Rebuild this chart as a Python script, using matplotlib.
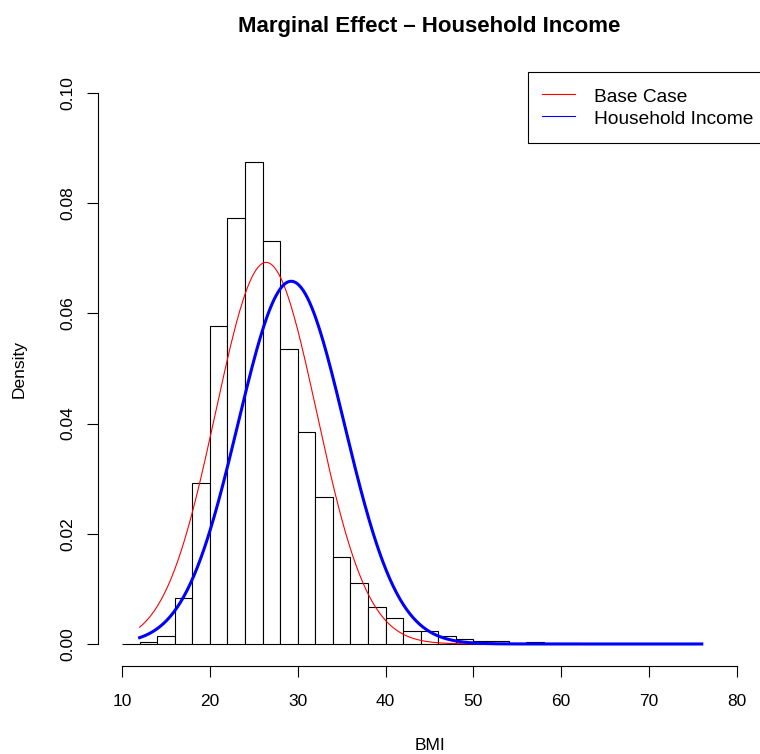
import numpy as np
import matplotlib
matplotlib.use("Agg")
from matplotlib import pyplot as plt
from matplotlib.lines import Line2D

plt.rcParams['font.family'] = ['Liberation Sans', 'DejaVu Sans']

# histogram of BMI, bins of width 2 starting at 10 (density scale)
bin_left = np.arange(10, 76, 2)
density = [0.0, 0.0003, 0.0014, 0.0083, 0.0293, 0.0577, 0.0773, 0.0874,
           0.0731, 0.0535, 0.0385, 0.0267, 0.0158, 0.0111, 0.0068, 0.0048,
           0.0024, 0.0023, 0.0014, 0.0009, 0.0006, 0.0005, 0.0002, 0.0003,
           0.0001, 0.0001, 0.00005, 0.00003, 0.0, 0.00002, 0.0, 0.0, 0.0]

# fitted normal curves (mean, sd)
base_mean, base_sd = 26.4, 5.76
inc_mean, inc_sd = 29.25, 6.06
curve_from, curve_to = 12, 76


def dnorm(x, m, s):
    return np.exp(-0.5 * ((x - m) / s) ** 2) / (s * np.sqrt(2 * np.pi))


W, H = 760, 754
fig = plt.figure(figsize=(W / 100, H / 100), dpi=100)
ax = fig.add_axes([97.5 / W, (H - 666) / H, (761.5 - 97.5) / W, (666 - 71) / H])

ax.bar(bin_left, density, width=2, align='edge', facecolor='white',
       edgecolor='black', linewidth=0.8)

xs = np.linspace(curve_from, curve_to, 500)
ax.plot(xs, dnorm(xs, base_mean, base_sd), color='#ff0000', lw=0.8)
ax.plot(xs, dnorm(xs, inc_mean, inc_sd), color='#0000ff', lw=2.2)

ax.set_xlim(7.2, 82.8)
ax.set_ylim(-0.004, 0.104)
ax.set_xticks(np.arange(10, 81, 10))
ax.set_yticks(np.arange(0, 0.101, 0.02))
ax.set_yticklabels(["%.2f" % v for v in np.arange(0, 0.101, 0.02)],
                   rotation=90, va='center')

for side in ('top', 'right'):
    ax.spines[side].set_visible(False)
ax.spines['left'].set_bounds(0, 0.1)
ax.spines['bottom'].set_bounds(10, 80)
for side in ('left', 'bottom'):
    ax.spines[side].set_linewidth(0.8)
ax.tick_params(length=8, width=0.8, labelsize=12.5)
ax.tick_params(axis='x', pad=12)
ax.tick_params(axis='y', pad=8)

ax.set_xlabel("BMI", fontsize=12.5, labelpad=21)
ax.set_ylabel("Density", fontsize=12.5, labelpad=24)
ax.set_title("Marginal Effect \u2013 Household Income", fontsize=16,
             fontweight='bold', pad=28)

handles = [Line2D([], [], color='#ff0000', lw=0.8),
           Line2D([], [], color='#0000ff', lw=0.8)]
ax.legend(handles, ["Base Case", "Household Income"], loc='upper left',
          bbox_to_anchor=(528 / W, (H - 71.5) / H), bbox_transform=fig.transFigure,
          fontsize=13.8, frameon=True, fancybox=False, edgecolor='black',
          framealpha=1, borderpad=0.75, handlelength=1.72, handleheight=1.2,
          handletextpad=0.95, labelspacing=0.1, borderaxespad=0)
ax.get_legend().get_frame().set_linewidth(0.8)

fig.savefig("out.png", dpi=100)
